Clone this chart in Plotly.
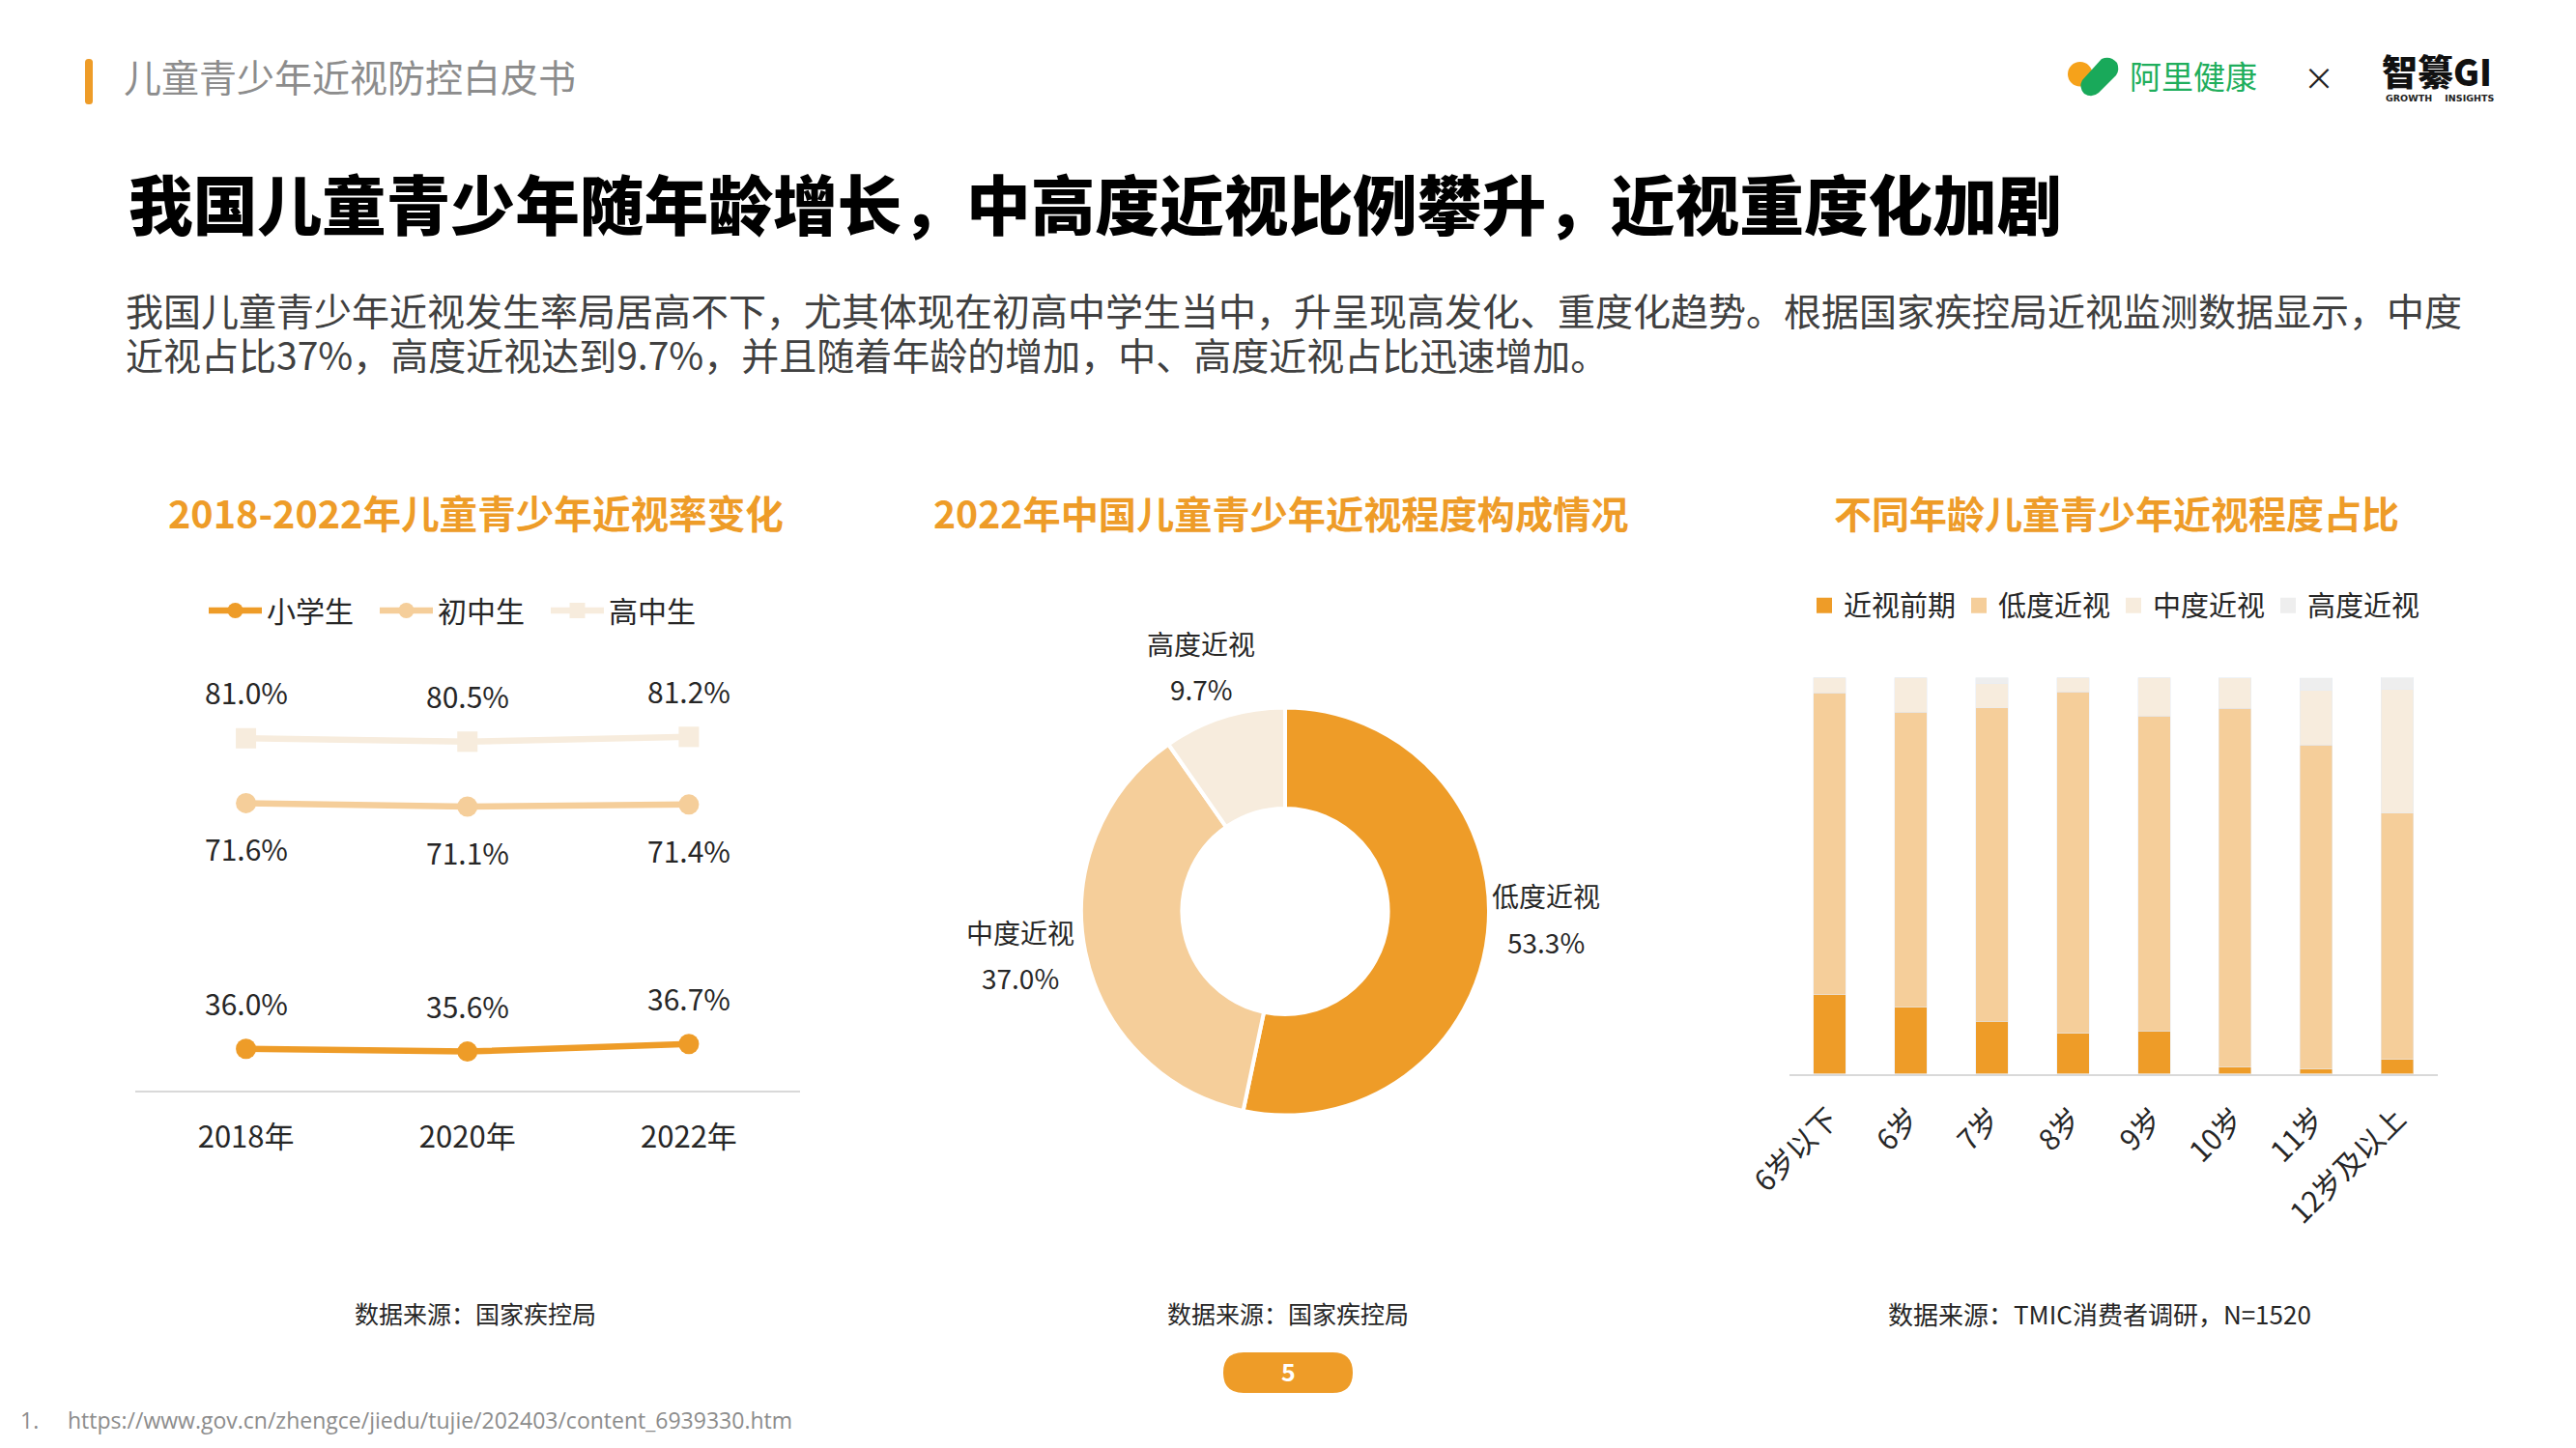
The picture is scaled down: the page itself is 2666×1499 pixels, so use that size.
import plotly.graph_objects as go

W, H = 2666, 1499
FONT = "Noto Sans CJK SC"
ORANGE = "#EE9C28"
LIGHT = "#F5CE9A"
PALE = "#F7ECDD"
GREY = "#EEEEEE"
TEXT = "#262626"

years = ["2018年", "2020年", "2022年"]
primary = [36.0, 35.6, 36.7]
junior = [71.6, 71.1, 71.4]
senior = [81.0, 80.5, 81.2]

pie_labels = ["低度近视", "中度近视", "高度近视"]
pie_values = [53.3, 37.0, 9.7]

ages = ["6岁以下", "6岁", "7岁", "8岁", "9岁", "10岁", "11岁", "12岁及以上"]
pre_myopia = [19.9, 16.8, 13.3, 10.2, 10.8, 1.7, 1.2, 3.6]
low_myopia = [76.2, 74.5, 79.0, 86.2, 79.5, 90.5, 81.8, 62.2]
mid_myopia = [3.9, 8.7, 6.1, 3.6, 9.7, 7.7, 13.8, 31.2]
high_myopia = [0, 0, 1.6, 0, 0, 0, 3.1, 3.0]

desc_lines = [
    "我国儿童青少年近视发生率局居高不下，尤其体现在初高中学生当中，升呈现高发化、重度化趋势。根据国家疾控局近视监测数据显示，中度",
    "近视占比37%，高度近视达到9.7%，并且随着年龄的增加，中、高度近视占比迅速增加。",
]


def px(x):
    return x / W


def py(y):
    return 1 - y / H


def note(x, y, text, size, color=TEXT, anchor="center", weight=None, family=FONT):
    # the CJK font sits a few pixels low in its line box
    return dict(xref="paper", yref="paper", x=px(x), y=py(y - 3), text=text, showarrow=False,
                xanchor=anchor, yanchor="middle", align=anchor if anchor != "center" else "center",
                font=dict(family=family, size=size, color=color, weight=weight))


def pill(x0, y0, x1, y1, r):
    # rounded rectangle in page pixels, written in paper fractions
    pts = [("M", x0 + r, y0), ("L", x1 - r, y0), ("Q", x1, y0, x1, y0 + r), ("L", x1, y1 - r),
           ("Q", x1, y1, x1 - r, y1), ("L", x0 + r, y1), ("Q", x0, y1, x0, y1 - r),
           ("L", x0, y0 + r), ("Q", x0, y0, x0 + r, y0)]
    d = ""
    for p in pts:
        vals = p[1:]
        coords = [f"{px(vals[i]):.5f},{py(vals[i + 1]):.5f}" for i in range(0, len(vals), 2)]
        d += p[0] + " ".join(coords) + " "
    return d + "Z"


fig = go.Figure()

# line chart
line_series = [("小学生", primary, ORANGE, "circle"), ("初中生", junior, LIGHT, "circle"),
               ("高中生", senior, PALE, "square")]
for name, vals, color, symbol in line_series:
    fig.add_trace(go.Scatter(x=years, y=vals, name=name, mode="lines+markers", xaxis="x", yaxis="y",
                             line=dict(color=color, width=6.5),
                             marker=dict(color=color, size=21, symbol=symbol), legend="legend"))

labels = []
for vals, shift in [(primary, 48), (junior, -47), (senior, 48)]:
    for year, v in zip(years, vals):
        labels.append(dict(x=year, y=v, xref="x", yref="y", text=f"{v:.1f}%", showarrow=False,
                           yshift=shift, yanchor="middle",
                           font=dict(family=FONT, size=30, color=TEXT)))

# donut, labels are placed by hand further down
fig.add_trace(go.Pie(labels=pie_labels, values=pie_values, sort=False, direction="clockwise", rotation=0,
                     hole=0.505, marker=dict(colors=[ORANGE, LIGHT, PALE], line=dict(color="white", width=4)),
                     textinfo="none", showlegend=False,
                     domain=dict(x=[px(1119), px(1541)], y=[py(1154.5), py(732.5)])))

pie_label_pos = [(1600, 930, 978), (1055.5, 968, 1015), (1243, 669, 716)]
pie_notes = []
for name, v, (lx, ly1, ly2) in zip(pie_labels, pie_values, pie_label_pos):
    pie_notes.append(note(lx, ly1, name, 28))
    pie_notes.append(note(lx, ly2, f"{v:.1f}%", 28))

# stacked bars
bar_series = [("近视前期", pre_myopia, ORANGE), ("低度近视", low_myopia, LIGHT),
              ("中度近视", mid_myopia, PALE), ("高度近视", high_myopia, GREY)]
for name, vals, color in bar_series:
    fig.add_trace(go.Bar(x=ages, y=vals, name=name, xaxis="x2", yaxis="y2", marker_color=color,
                         showlegend=False, legendgroup=name))
    # legend squares a little larger than the bar legend icon
    fig.add_trace(go.Scatter(x=[None], y=[None], name=name, mode="markers", xaxis="x2", yaxis="y2",
                             marker=dict(color=color, size=16, symbol="square"), legend="legend2",
                             legendgroup=name))

shapes = [
    dict(type="path", xref="paper", yref="paper", path=pill(88, 61, 96, 108, 3.5),
         fillcolor=ORANGE, line_width=0),
    dict(type="path", xref="paper", yref="paper", path=pill(1266, 1400, 1400, 1442, 21),
         fillcolor=ORANGE, line_width=0),
    dict(type="circle", xref="paper", yref="paper", x0=px(2140), x1=px(2165.5), y0=py(89.5), y1=py(64),
         fillcolor="#F6A21A", line_width=0),
    dict(type="path", xref="paper", yref="paper", fillcolor="#19A95A", line_width=0,
         path=f"M{px(2175):.5f},{py(61):.5f} Q{px(2184):.5f},{py(57):.5f} {px(2191):.5f},{py(65):.5f} "
              f"Q{px(2194):.5f},{py(72):.5f} {px(2190):.5f},{py(78):.5f} L{px(2172):.5f},{py(96):.5f} "
              f"Q{px(2165):.5f},{py(102):.5f} {px(2157):.5f},{py(97):.5f} Q{px(2151):.5f},{py(90):.5f} "
              f"{px(2155):.5f},{py(83):.5f} Z"),
]

# one text block, small base size gives the tight line pitch of the slide
desc_text = "<br>".join(f'<span style="font-size:39px">{line}</span>' for line in desc_lines)

page_text = [
    note(126, 81, "儿童青少年近视防控白皮书", 39, "#8C8C8C", "left"),
    note(131, 212, "我国儿童青少年随年龄增长，中高度近视比例攀升，近视重度化加剧", 66.7, "#000000", "left", 900),
    note(127.5, 346, desc_text, 35.4, "#404040", "left"),
    note(492, 533, "2018-2022年儿童青少年近视率变化", 39.6, ORANGE, weight=700),
    note(1325, 533, "2022年中国儿童青少年近视程度构成情况", 39.2, ORANGE, weight=700),
    note(2190, 533, "不同年龄儿童青少年近视程度占比", 39, ORANGE, weight=700),
    note(492, 1362, "数据来源：国家疾控局", 25),
    note(1333, 1362, "数据来源：国家疾控局", 25),
    note(2173, 1362, "数据来源：TMIC消费者调研，N=1520", 26),
    note(1333, 1422, "5", 25, "white", weight=700),
    note(19, 1473, "1.", 23, "#8C8C8C", "left", family="Open Sans"),
    note(68, 1473, "https://www.gov.cn/zhengce/jiedu/tujie/202403/content_6939330.htm", 23, "#8C8C8C", "left",
         family="Open Sans"),
    note(2202, 81, "阿里健康", 33, "#1FAE5C", "left"),
    note(2400, 82, "×", 32, "#222222"),
    note(2463, 76, "智纂GI", 37, "#111111", "left", 900),
    note(2467, 105, "GROWTH    INSIGHTS", 9.5, "#222222", "left", 700, "DejaVu Sans"),
]

fig.update_layout(
    width=W, height=H, margin=dict(l=0, r=0, t=0, b=0, autoexpand=False), autosize=False,
    paper_bgcolor="white", plot_bgcolor="white", barmode="stack", bargap=0.6,
    font=dict(family=FONT, color=TEXT),
    xaxis=dict(domain=[px(140), px(827.5)], type="category", range=[-0.5, 2.5], showgrid=False, zeroline=False,
               showline=True, linecolor="#D9D9D9", linewidth=2, ticks="", ticklabelstandoff=20,
               tickfont=dict(family=FONT, size=31, color=TEXT), anchor="y"),
    yaxis=dict(domain=[py(1128.6), py(700)], range=[30, 90], visible=False, anchor="x"),
    xaxis2=dict(domain=[px(1851.7), px(2523)], type="category", range=[-0.5, 7.5], showgrid=False, zeroline=False,
                showline=True, linecolor="#D9D9D9", linewidth=2, ticks="", tickangle=-45, ticklabelstandoff=15,
                tickfont=dict(family=FONT, size=30, color=TEXT), anchor="y2"),
    yaxis2=dict(domain=[py(1111.6), py(701.4)], range=[0, 100], visible=False, anchor="x2"),
    legend=dict(orientation="h", x=px(211), y=py(632), xanchor="left", yanchor="middle", itemwidth=55,
                entrywidth=107, bgcolor="rgba(0,0,0,0)", font=dict(family=FONT, size=30, color=TEXT),
                traceorder="normal", itemclick=False),
    legend2=dict(orientation="h", x=px(1868), y=py(627), xanchor="left", yanchor="middle", itemwidth=30,
                 entrywidth=115, bgcolor="rgba(0,0,0,0)", font=dict(family=FONT, size=29, color=TEXT),
                 traceorder="normal", itemclick=False),
    shapes=shapes,
    annotations=labels + pie_notes + page_text,
)

fig.write_html("out.html", config={"displayModeBar": False},
               post_script="document.body.style.margin='0';window.dispatchEvent(new Event('resize'));")
